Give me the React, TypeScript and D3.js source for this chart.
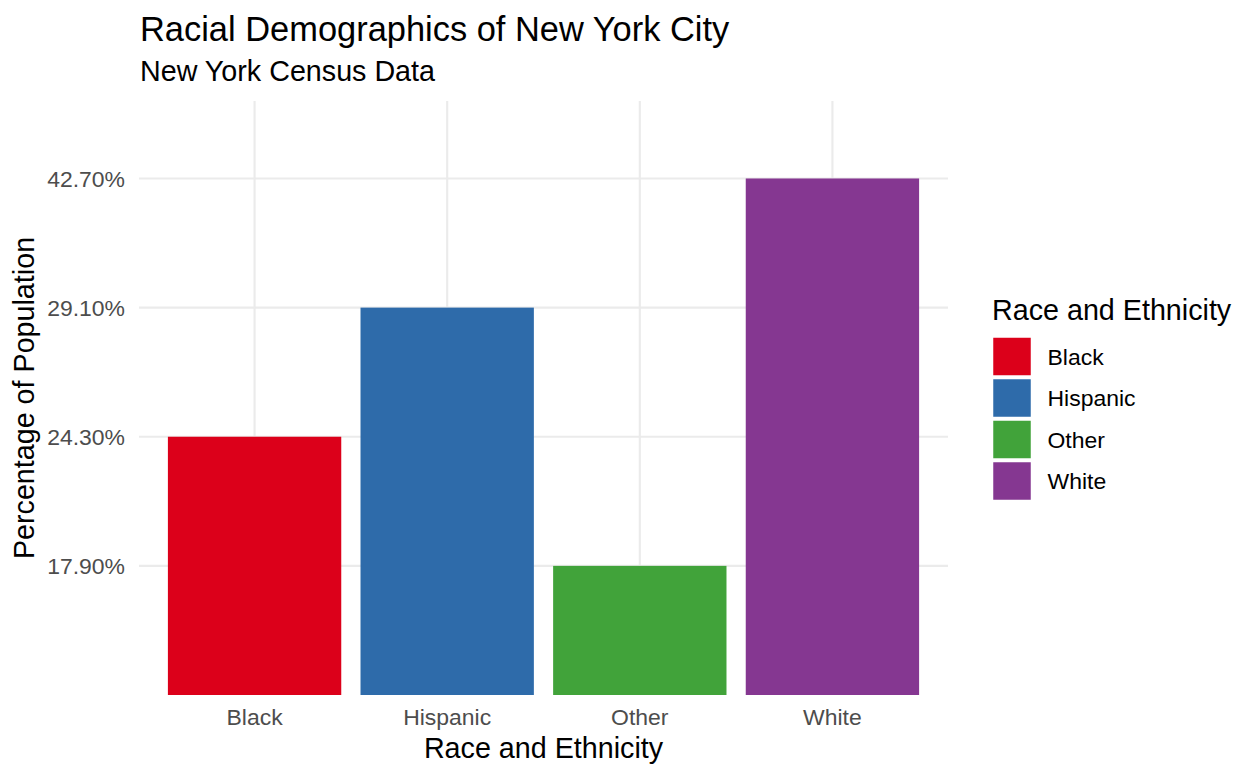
import React, { useEffect, useRef } from 'react';
import * as d3 from 'd3';

// categories and their (discrete) percentage labels
const races = ['Black', 'Hispanic', 'Other', 'White'];
const shares = ['24.30%', '29.10%', '17.90%', '42.70%'];
const colors = ['#DC001A', '#2E6BAA', '#41A33A', '#853791'];

const title = 'Racial Demographics of New York City';
const subtitle = 'New York Census Data';

function App() {
    const svgRef = useRef<SVGSVGElement>(null);

    useEffect(() => {
        const width = 1259;
        const height = 778;
        const panel = { left: 139, right: 948, top: 101, bottom: 695 };
        const font = '"Liberation Sans", Arial, Helvetica, sans-serif';
        const base = 28.7;

        const svg = d3.select(svgRef.current)
            .attr('width', width)
            .attr('height', height)
            .style('font-family', font);
        svg.selectAll('*').remove();

        // y is discrete: percentage strings sorted as factor levels
        const levels = [...shares].sort((a, b) => parseFloat(a) - parseFloat(b));
        const rank = (s: string) => levels.indexOf(s) + 1;

        // discrete x with 0.6 expansion on each side
        const x = d3.scalePoint()
            .domain(races)
            .range([panel.left, panel.right])
            .padding(0.6);
        const bw = x.step() * 0.9;

        const y = d3.scaleLinear()
            .domain([0, levels.length + 0.6])
            .range([panel.bottom, panel.top]);

        const color = d3.scaleOrdinal<string, string>().domain(races).range(colors);

        // grid
        const grid = svg.append('g').attr('stroke', '#ebebeb').attr('stroke-width', 2.1);
        levels.forEach((l, i) => {
            grid.append('line')
                .attr('x1', panel.left).attr('x2', panel.right)
                .attr('y1', y(i + 1)).attr('y2', y(i + 1));
        });
        races.forEach(r => {
            grid.append('line')
                .attr('x1', x(r)).attr('x2', x(r))
                .attr('y1', panel.top).attr('y2', panel.bottom);
        });

        // bars
        svg.append('g')
            .selectAll('rect')
            .data(races)
            .enter()
            .append('rect')
            .attr('x', d => x(d)! - bw / 2)
            .attr('width', bw)
            .attr('y', (d, i) => y(rank(shares[i])))
            .attr('height', (d, i) => y(0) - y(rank(shares[i])))
            .attr('fill', d => color(d));

        // y tick labels
        svg.append('g')
            .selectAll('text')
            .data(levels)
            .enter()
            .append('text')
            .attr('x', 125)
            .attr('y', (d, i) => y(i + 1))
            .attr('dy', '0.36em')
            .attr('text-anchor', 'end')
            .attr('fill', '#4d4d4d')
            .style('font-size', `${base * 0.8}px`)
            .text(d => d);

        // x tick labels
        svg.append('g')
            .selectAll('text')
            .data(races)
            .enter()
            .append('text')
            .attr('x', d => x(d)!)
            .attr('y', 725)
            .attr('text-anchor', 'middle')
            .attr('fill', '#4d4d4d')
            .style('font-size', `${base * 0.8}px`)
            .text(d => d);

        // axis titles
        svg.append('text')
            .attr('x', (panel.left + panel.right) / 2)
            .attr('y', 758)
            .attr('text-anchor', 'middle')
            .style('font-size', `${base}px`)
            .text('Race and Ethnicity');
        svg.append('text')
            .attr('transform', `translate(34,${(panel.top + panel.bottom) / 2}) rotate(-90)`)
            .attr('text-anchor', 'middle')
            .style('font-size', `${base}px`)
            .text('Percentage of Population');

        // titles
        svg.append('text').attr('x', 140).attr('y', 40.5)
            .style('font-size', `${base * 1.2}px`).text(title);
        svg.append('text').attr('x', 140).attr('y', 81)
            .style('font-size', `${base}px`).text(subtitle);

        // legend
        const legend = svg.append('g');
        legend.append('text').attr('x', 992).attr('y', 320)
            .style('font-size', `${base}px`).text('Race and Ethnicity');
        const keys = legend.selectAll('g.key')
            .data(races)
            .enter()
            .append('g')
            .attr('class', 'key')
            .attr('transform', (d, i) => `translate(992.5,${337 + i * 41.5})`);
        keys.append('rect')
            .attr('width', 39).attr('height', 39)
            .attr('fill', d => color(d))
            .attr('stroke', 'white').attr('stroke-width', 1.5);
        keys.append('text')
            .attr('x', 55).attr('y', 19.5).attr('dy', '0.35em')
            .style('font-size', `${base * 0.8}px`)
            .text(d => d);
    }, []);

    return <svg ref={svgRef} style={{ position: 'absolute', left: 0, top: 0 }}></svg>;
}

export default App;
